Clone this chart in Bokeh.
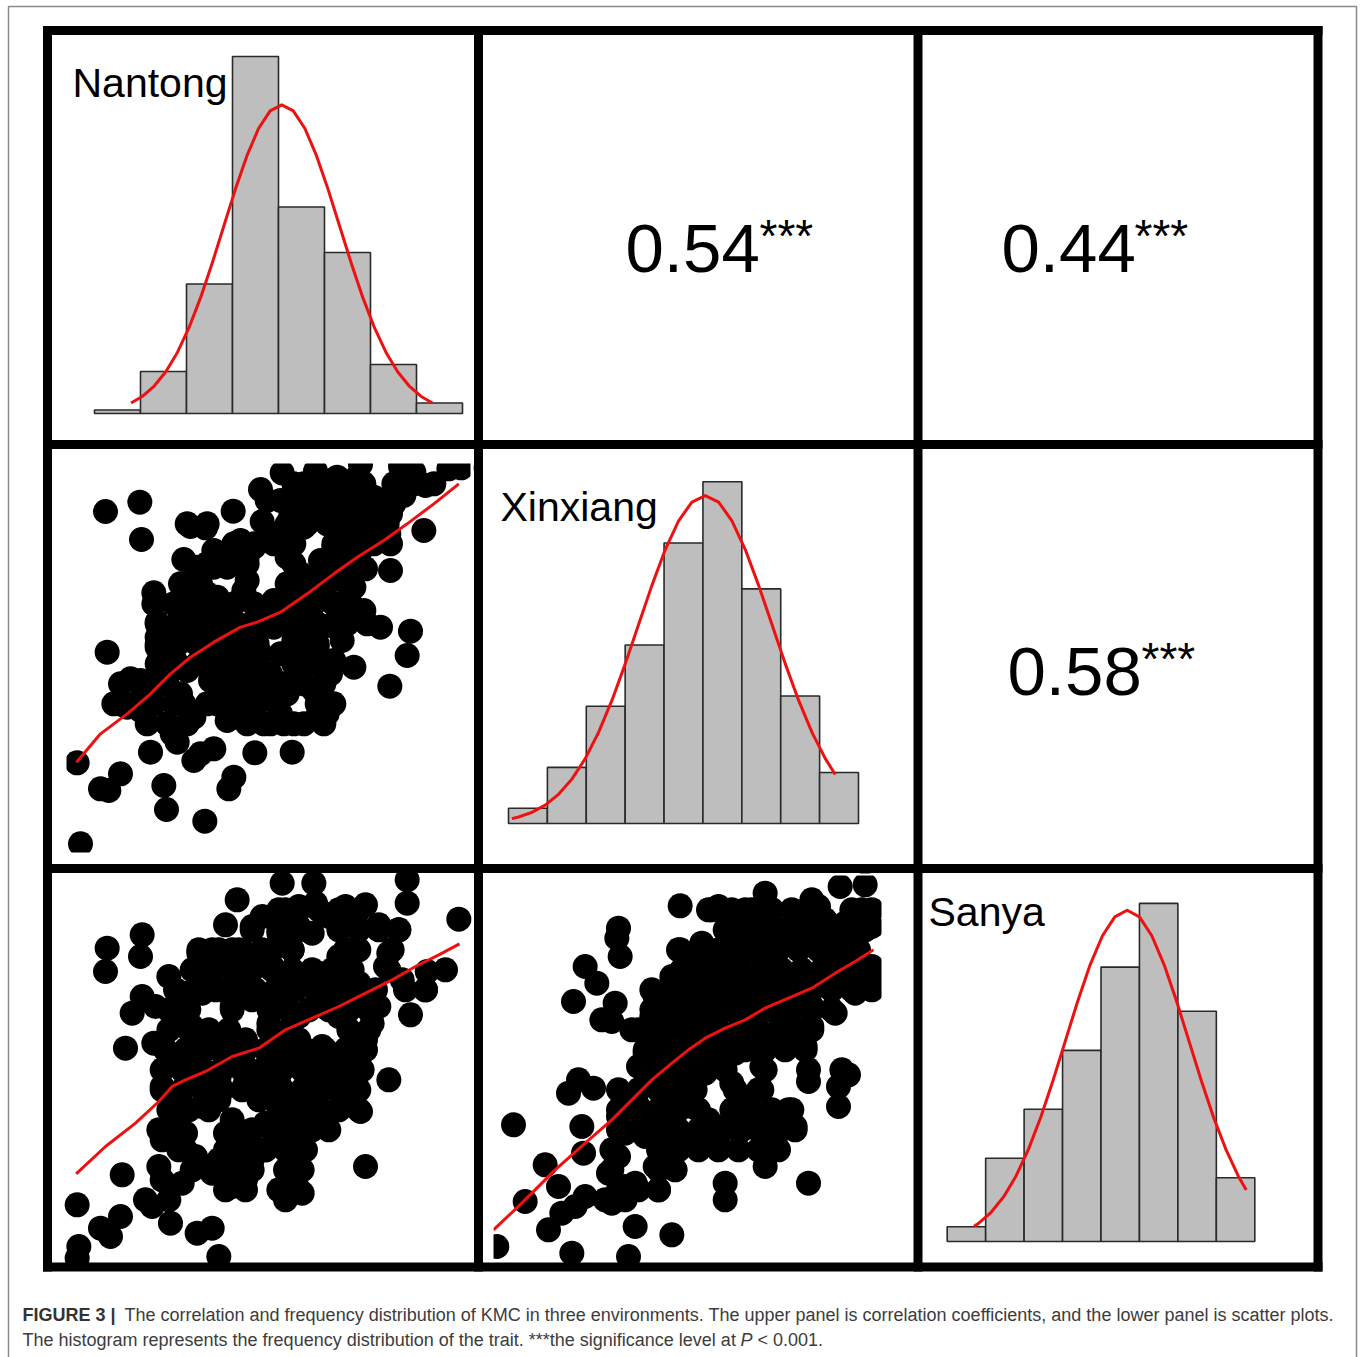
from bokeh.plotting import figure
from bokeh.models import Range1d
from bokeh.embed import file_html
from bokeh.resources import INLINE
from bokeh.core.properties import value

W, H = 1360, 1357

# ---------------- data ----------------
environments = ["Nantong", "Xinxiang", "Sanya"]

nantong_edges = [26, 27, 28, 29, 30, 31, 32, 33, 34]
nantong_counts = [1, 12, 37, 102, 59, 46, 14, 3]
xinxiang_edges = [24, 25, 26, 27, 28, 29, 30, 31, 32, 33]
xinxiang_counts = [3, 11, 23, 35, 55, 67, 46, 25, 10]
sanya_edges = [25, 26, 27, 28, 29, 30, 31, 32, 33]
sanya_counts = [3, 17, 27, 39, 56, 69, 47, 13]

# fitted normal curves
nantong_curve_x = [26.794, 27.046, 27.298, 27.550, 27.802, 28.054, 28.306, 28.558, 28.810, 29.062, 29.314,
                   29.566, 29.818, 30.070, 30.322, 30.574, 30.826, 31.078, 31.330, 31.582, 31.834, 32.086,
                   32.338, 32.590, 32.842, 33.094, 33.346]
nantong_curve_y = [3.00, 4.95, 7.84, 11.94, 17.45, 24.52, 33.10, 42.93, 53.50, 64.05, 73.67, 81.42, 86.45,
                   88.20, 86.45, 81.42, 73.67, 64.05, 53.50, 42.93, 33.10, 24.52, 17.45, 11.94, 7.84, 4.95,
                   3.00]
xinxiang_curve_x = [24.086, 24.258, 24.601, 24.944, 25.287, 25.630, 25.973, 26.316, 26.659, 27.002, 27.345,
                    27.688, 28.031, 28.374, 28.717, 29.060, 29.403, 29.746, 30.089, 30.432, 30.775, 31.118,
                    31.461, 31.804, 32.147, 32.404]
xinxiang_curve_y = [0.96, 1.28, 2.19, 3.61, 5.72, 8.70, 12.72, 17.88, 24.13, 31.30, 39.00, 46.69, 53.71,
                    59.36, 63.03, 64.30, 63.03, 59.36, 53.71, 46.69, 39.00, 31.30, 24.13, 17.88, 12.72, 9.61]
sanya_curve_x = [25.700, 25.828, 26.149, 26.470, 26.791, 27.112, 27.433, 27.754, 28.075, 28.396, 28.717,
                 29.038, 29.359, 29.680, 30.001, 30.322, 30.643, 30.964, 31.285, 31.606, 31.927, 32.248,
                 32.569, 32.778]
sanya_curve_y = [3.12, 3.79, 6.01, 9.15, 13.38, 18.80, 25.37, 32.90, 41.00, 49.09, 56.46, 62.40, 66.26,
                 67.60, 66.26, 62.40, 56.46, 49.09, 41.00, 32.90, 25.37, 18.80, 13.38, 10.50]

# correlation coefficients
r_nantong_xinxiang = "0.54"
r_nantong_sanya = "0.44"
r_xinxiang_sanya = "0.58"
signif = "***"

# scatter: Nantong (x) vs Xinxiang (y) -- outer points
nx_x = [26.95, 27.98, 28.03, 29.30, 29.50, 29.95, 30.78, 31.65, 31.60, 32.25, 33.25, 33.90, 34.60, 35.80,
        36.20, 37.25, 37.62, 36.55, 35.90, 35.30, 36.50, 35.45, 35.50, 34.75, 36.10, 36.00, 35.48, 35.20,
        34.70, 34.30, 34.05, 34.40, 33.80, 33.70, 28.40, 28.50, 27.00, 26.10, 26.20, 26.80, 27.40, 27.05,
        28.70, 28.78, 29.93, 30.65, 30.80, 31.43, 32.55, 28.30, 28.95, 29.10, 29.60, 30.20, 29.80, 27.40,
        27.70, 28.00, 27.60, 28.00, 28.55, 28.50, 29.00, 29.60, 29.30, 30.00, 30.40, 31.05, 31.90, 32.60,
        33.30, 33.60, 33.20, 32.80, 32.20, 31.60, 31.90, 31.00, 30.60, 30.10, 29.70, 30.20, 30.70, 31.20,
        31.60, 32.20, 32.60, 33.00, 33.30, 33.70, 29.30, 29.60, 30.20, 30.70, 31.00, 31.40, 32.00, 32.50,
        32.90, 32.80, 33.20, 33.50, 34.00, 34.50, 35.00, 35.50, 35.00, 34.20, 32.40, 31.10, 30.30, 30.00,
        29.80, 29.20, 28.80, 30.40, 30.90, 31.50, 32.00, 32.60, 33.20, 33.80, 34.20, 34.00, 34.60, 33.40,
        32.80, 32.40, 33.00, 33.50, 32.00, 31.20, 30.60, 30.00, 29.40, 28.80, 28.30, 29.20, 31.30, 32.40,
        32.50, 31.80, 34.70, 34.40, 31.20, 33.80,
        28.50, 30.60, 31.20, 29.80, 29.30, 31.40, 30.80, 32.00, 34.00, 34.60, 35.00, 34.50, 33.80, 32.60,
        32.20, 30.20, 29.70, 28.80, 30.60, 31.20, 32.80]
nx_y = [34.87, 35.15, 34.03, 33.43, 34.42, 34.38, 34.88, 34.57, 35.53, 36.03, 36.08, 35.90, 36.28, 36.22,
        36.05, 36.15, 36.18, 35.65, 35.35, 35.20, 34.30, 34.20, 33.10, 33.15, 31.28, 30.55, 29.63, 31.40,
        31.90, 32.10, 31.00, 30.20, 30.40, 31.45, 32.43, 31.55, 30.65, 27.33, 24.90, 26.55, 27.00, 26.50,
        26.65, 25.93, 25.58, 26.55, 26.90, 27.63, 27.65, 27.65, 28.20, 27.95, 27.40, 27.75, 27.60, 29.10,
        29.85, 29.80, 29.00, 28.90, 30.40, 31.10, 30.50, 28.70, 29.10, 29.10, 29.10, 28.90, 28.50, 28.50,
        28.70, 28.80, 29.50, 30.00, 28.80, 29.40, 30.00, 30.00, 29.80, 29.80, 31.00, 31.40, 31.60, 31.00,
        30.60, 30.60, 31.00, 31.20, 30.80, 30.00, 32.30, 32.80, 33.20, 33.70, 34.00, 33.80, 34.20, 34.70,
        34.40, 35.20, 35.60, 34.90, 34.70, 35.00, 34.70, 34.80, 34.00, 34.00, 33.50, 32.50, 32.30, 32.40,
        31.80, 31.70, 31.30, 30.60, 30.60, 31.80, 32.20, 32.40, 32.80, 33.00, 32.80, 33.60, 33.70, 33.40,
        33.00, 31.80, 32.00, 32.30, 31.40, 31.40, 31.00, 30.50, 30.10, 29.70, 29.40, 29.40, 29.10, 29.40,
        34.00, 35.20, 35.60, 32.60, 32.80, 33.80,
        30.80, 33.20, 33.50, 31.40, 31.00, 30.00, 29.40, 29.40, 34.30, 34.40, 35.30, 35.90, 35.20, 35.70,
        35.20, 33.70, 33.20, 30.80, 28.60, 28.50, 30.80]
# Nantong vs Xinxiang -- points of the dense core
nx_core_x = [32.90, 33.50, 34.10, 34.70, 35.60, 36.20, 36.80,
             32.60, 33.20, 33.80, 34.40, 35.00, 35.60,
             29.40, 30.00, 32.40, 33.00, 33.60, 34.20, 34.80, 35.40,
             30.80, 31.40, 32.00, 32.60, 33.80, 34.40, 35.00, 35.50,
             30.00, 30.60, 31.20, 32.60, 33.80, 34.40,
             29.20, 29.80, 32.40, 33.00, 33.60, 34.20,
             28.40, 29.00, 29.60, 30.20, 30.80, 31.40, 32.00, 32.60, 33.20, 33.80,
             28.50, 29.10, 29.70, 30.30, 30.90, 31.50, 32.10, 32.70, 33.30, 34.20, 34.80,
             28.50, 29.10, 29.70, 30.30, 30.90, 31.50, 32.70, 33.30,
             28.50, 29.10, 29.70, 30.30, 30.90, 31.50, 32.60, 33.20, 33.70,
             27.40, 28.00, 28.60, 30.50, 31.10, 31.70, 32.30, 32.90, 33.50,
             27.20, 27.80, 28.40, 29.00, 30.30, 30.90, 31.50, 32.10, 33.30, 33.80,
             28.20, 28.80, 29.40, 31.70, 32.30, 32.90, 33.50]
nx_core_y = [35.70] * 7 + [35.10] * 6 + [34.50] * 8 + [33.90] * 8 + [33.30] * 6 + [32.70] * 6 + \
            [32.10] * 10 + [31.50] * 11 + [30.90] * 8 + [30.30] * 9 + [29.70] * 9 + [29.10] * 10 + [28.50] * 7
nx_fit_x = [26.08, 26.80, 27.60, 28.30, 28.90, 29.50, 30.20, 31.00, 31.50, 32.20, 33.00, 33.80, 34.50,
            35.30, 36.00, 36.80, 37.55]
nx_fit_y = [27.35, 28.20, 28.80, 29.40, 30.00, 30.50, 30.95, 31.40, 31.55, 31.85, 32.40, 33.00, 33.50,
            34.00, 34.50, 35.10, 35.70]

# scatter: Nantong (x) vs Sanya (y) -- outer points
ns_x = [32.10, 33.05, 35.85, 30.75, 35.85, 37.40, 30.40, 31.20, 27.90, 26.85, 27.85, 26.80, 28.70, 29.60,
        30.00, 30.60, 31.50, 32.20, 33.10, 34.00, 34.60, 35.00, 35.60, 35.30, 35.20, 35.70, 36.40, 37.00,
        36.45, 35.95, 35.00, 34.40, 27.90, 27.60, 28.30, 27.40, 28.25, 28.80, 29.20, 29.70, 30.30, 31.00,
        31.80, 32.40, 33.00, 33.80, 34.00, 33.20, 32.60, 32.20, 31.60, 31.70, 30.60, 29.40, 29.80, 30.40,
        31.00, 31.80, 32.60, 33.30, 33.80, 33.80, 34.60, 34.30, 33.80, 33.50, 33.90, 34.45, 35.30, 34.60,
        33.20, 32.80, 32.60, 32.20, 32.80, 33.30, 32.00, 31.50, 31.00, 30.40, 30.00, 29.40, 28.80, 28.50,
        29.00, 28.80, 28.50, 29.20, 29.70, 30.20, 31.00, 31.40, 32.00, 32.40, 32.20, 31.60, 31.00, 30.40,
        29.50, 30.20, 30.80, 31.20, 30.60, 30.00, 32.40, 32.30, 32.20, 32.70, 28.40, 28.50, 29.10, 28.00,
        28.70, 27.30, 25.95, 26.65, 27.25, 26.95, 26.00, 25.95, 28.75, 29.55, 30.00, 30.20, 28.20, 31.00,
        32.00, 32.60, 33.50, 34.30, 31.50, 30.60, 29.80, 29.20, 32.20, 31.20, 32.90, 30.60, 29.40, 31.90,
        33.20, 29.00, 31.60, 34.00,
        32.60, 34.40, 34.80, 32.60, 30.20, 29.60, 32.60, 33.20, 31.00]
ns_y = [36.50, 36.50, 36.60, 36.00, 35.90, 35.42, 35.25, 35.20, 34.95, 34.55, 34.30, 33.85, 33.70, 34.40,
        34.50, 34.50, 35.50, 35.70, 35.90, 35.80, 35.85, 35.25, 35.10, 34.40, 34.00, 33.60, 33.30, 33.90,
        33.85, 32.55, 32.80, 32.90, 33.10, 32.60, 32.80, 31.55, 31.70, 32.20, 32.80, 33.20, 33.30, 33.50,
        34.00, 34.50, 35.00, 34.30, 34.00, 33.80, 33.50, 32.90, 33.00, 32.30, 32.80, 32.20, 31.70, 31.80,
        31.80, 32.00, 32.50, 33.00, 33.30, 32.50, 31.80, 31.30, 31.00, 30.60, 30.00, 29.65, 30.60, 28.00,
        29.30, 29.50, 30.20, 31.00, 31.40, 31.60, 30.50, 30.80, 31.00, 31.20, 30.80, 30.60, 31.10, 30.40,
        30.00, 29.60, 28.80, 29.00, 29.80, 30.00, 30.50, 30.00, 29.80, 29.20, 28.70, 28.50, 28.80, 29.00,
        28.30, 28.20, 28.00, 28.20, 27.40, 27.80, 28.30, 27.50, 27.00, 27.20, 28.00, 27.60, 27.50, 27.00,
        27.00, 27.75, 26.85, 26.15, 26.50, 25.90, 25.60, 25.25, 26.30, 26.00, 26.15, 25.30, 26.80, 34.40,
        35.00, 35.20, 35.50, 35.50, 34.50, 34.00, 33.80, 33.20, 33.70, 33.00, 30.80, 29.40, 31.40, 31.40,
        30.20, 28.50, 29.30, 30.40,
        35.80, 33.50, 32.30, 31.80, 30.60, 31.00, 28.70, 29.80, 27.60]
# Nantong vs Sanya -- points of the dense core
ns_core_x = [32.00, 32.60, 33.20, 33.80, 34.40,
             31.20, 32.00, 32.60, 33.80, 34.40, 35.00, 35.60,
             29.60, 30.20, 30.80, 31.80, 32.40, 34.00, 34.40, 35.40,
             29.40, 30.00, 30.60, 31.20, 31.80, 32.40, 33.00, 33.60, 34.20, 35.30,
             28.90, 29.50, 30.10, 30.70, 31.30, 31.90, 32.50, 33.10, 33.70, 34.30, 34.90, 35.80, 36.40,
             28.70, 29.30, 30.60, 31.70, 32.30, 32.90, 33.50, 34.10, 34.70,
             28.70, 29.30, 29.90, 30.50, 31.70, 32.30, 34.10, 34.70,
             28.60, 29.20, 29.80, 30.40, 31.00, 31.60, 32.20, 32.80, 33.40, 34.00, 34.60,
             28.50, 29.10, 29.70, 30.30, 30.90, 31.50, 32.10, 32.70, 33.30, 33.90, 34.50,
             28.50, 29.10, 29.70, 30.30, 30.90, 31.50, 32.10, 32.70, 33.30, 33.90, 34.40,
             28.70, 29.30, 29.90, 32.00, 32.60, 33.20, 33.80, 34.40,
             28.40, 29.00, 30.60, 31.20, 31.80, 32.40, 33.00, 33.50,
             29.20, 30.40, 31.00, 31.60, 32.20, 32.80,
             29.40, 30.00, 30.60, 31.20, 32.20, 32.70,
             30.40, 31.00, 32.00, 32.60]
ns_core_y = [35.70] * 5 + [35.10] * 7 + [34.50] * 8 + [33.90] * 10 + [33.30] * 13 + [32.70] * 9 + \
            [32.10] * 8 + [31.50] * 11 + [30.90] * 11 + [30.30] * 11 + [29.70] * 8 + [29.10] * 8 + \
            [28.50] * 6 + [27.90] * 6 + [27.30] * 4
ns_fit_x = [25.92, 26.80, 27.70, 28.40, 28.80, 29.20, 29.80, 30.60, 31.40, 32.20, 33.00, 33.80, 34.60,
            35.40, 36.10, 36.80, 37.42]
ns_fit_y = [27.78, 28.60, 29.30, 29.95, 30.40, 30.60, 30.85, 31.30, 31.55, 32.10, 32.45, 32.80, 33.20,
            33.60, 34.00, 34.35, 34.68]

# scatter: Xinxiang (x) vs Sanya (y) -- outer points
xs_x = [30.05, 31.20, 30.90, 32.60, 34.85, 35.60, 34.00, 35.50, 35.80, 35.00, 34.40, 33.50, 33.00, 32.00,
        32.30, 31.60, 28.20, 28.15, 28.25, 27.20, 27.55, 26.85, 28.10, 28.00, 28.60, 29.00, 29.30, 30.10,
        30.05, 30.70, 30.40, 31.00, 31.50, 32.20, 32.80, 33.60, 34.50, 35.80, 35.80, 35.30, 34.70, 34.00,
        33.10, 33.40, 33.80, 32.60, 32.00, 31.40, 31.00, 30.50, 30.00, 29.60, 29.40, 29.90, 30.50, 31.20,
        31.70, 32.50, 33.90, 35.10, 34.80, 34.80, 29.10, 27.00, 26.70, 27.45, 28.40, 28.20, 28.80, 29.30,
        30.00, 30.20, 31.60, 32.00, 32.50, 32.80, 33.30, 33.50, 32.90, 32.50, 31.90, 31.60, 31.20, 30.50,
        30.00, 29.60, 29.00, 28.40, 28.20, 29.40, 29.30, 29.70, 28.40, 28.70, 29.40, 25.05, 27.10, 27.15,
        26.00, 26.40, 25.40, 26.10, 26.50, 27.20, 26.90, 28.00, 28.40, 28.70, 28.50, 26.80, 24.55, 29.80,
        31.40, 31.40, 32.60, 33.90, 29.20, 30.60, 31.20, 31.80, 32.40, 33.00, 33.60, 34.20, 32.50, 31.80,
        31.00, 31.60, 33.60, 35.20, 34.60, 30.00, 30.80, 30.40, 30.90, 28.80, 27.70, 29.80, 33.60, 28.20,
        27.80, 29.60, 34.20, 32.80,
        32.80, 34.00, 35.00, 33.00, 32.20, 35.20, 34.00, 32.20, 29.60, 29.60, 27.90]
xs_y = [35.82, 35.80, 35.70, 36.20, 36.40, 36.45, 36.00, 35.70, 35.20, 35.30, 35.40, 35.60, 35.00, 35.70,
        35.20, 35.00, 35.15, 34.85, 34.30, 34.00, 33.50, 32.95, 32.90, 32.35, 32.10, 31.40, 33.10, 33.20,
        34.50, 34.70, 34.00, 34.00, 34.40, 34.50, 34.40, 34.70, 34.40, 34.00, 33.60, 33.20, 32.60, 32.80,
        32.50, 31.80, 31.60, 31.60, 31.80, 31.60, 32.00, 32.30, 32.60, 32.40, 31.70, 31.20, 31.40, 31.00,
        31.40, 31.00, 30.55, 30.75, 30.40, 29.80, 30.60, 30.60, 30.20, 30.35, 30.00, 29.50, 29.80, 29.40,
        30.10, 30.60, 30.50, 30.00, 30.30, 29.60, 29.70, 29.20, 28.80, 29.10, 29.10, 29.40, 28.90, 28.70,
        29.00, 29.40, 28.90, 29.00, 28.30, 28.60, 28.00, 28.00, 27.40, 27.50, 27.30, 29.25, 29.20, 28.40,
        28.05, 27.40, 26.95, 26.10, 26.60, 27.10, 26.80, 26.90, 27.00, 26.20, 25.30, 25.40, 25.60, 25.95,
        27.50, 27.00, 28.00, 27.50, 32.50, 33.20, 33.20, 33.70, 33.70, 33.70, 33.70, 33.70, 32.80, 32.60,
        32.60, 32.90, 33.20, 34.30, 33.50, 31.80, 30.80, 29.80, 29.40, 31.00, 32.40, 33.70, 35.20, 27.20,
        27.00, 31.20, 35.80, 35.70,
        35.20, 35.00, 34.80, 33.10, 33.20, 33.80, 32.20, 32.20, 30.60, 29.90, 27.80]
# Xinxiang vs Sanya -- points of the dense core
xs_core_x = [31.00, 31.60, 32.20, 32.80, 33.40, 34.00, 35.20, 35.80,
             31.40, 32.00, 32.60, 33.20, 33.80, 34.40, 35.00, 35.60,
             30.00, 30.60, 31.20, 31.80, 32.40, 33.00, 33.60, 34.20, 34.80, 35.40,
             30.10, 30.70, 31.30, 31.90, 32.50, 33.10, 33.70, 34.30, 34.90, 35.50,
             29.20, 29.80, 30.40, 31.00, 31.60, 32.20, 32.80, 33.40, 34.00, 34.60, 35.20, 35.80,
             29.20, 29.80, 30.40, 31.00, 31.60, 32.20, 32.80, 33.40, 34.00, 34.60,
             28.80, 29.40, 30.00, 30.60, 31.20, 31.80, 32.40, 33.00, 33.60, 34.00,
             29.00, 29.60, 30.20, 30.80, 32.00, 32.60, 33.20, 33.80,
             29.00, 29.60, 30.20, 30.80, 31.40, 32.60, 33.90, 34.90,
             28.20, 28.80, 29.40, 30.00, 30.50, 31.70, 32.40,
             28.20, 28.80, 29.40, 30.00, 30.60, 31.60, 32.20, 32.80, 33.40,
             28.20, 28.80, 29.40, 30.00, 30.60, 31.20, 31.80, 32.40, 33.00, 33.50,
             28.00, 29.40, 30.00, 30.60, 31.20, 31.80, 32.40, 33.00,
             28.00, 29.40, 29.90,
             28.20, 28.80, 29.40]
xs_core_y = [35.70] * 8 + [35.10] * 8 + [34.50] * 10 + [33.90] * 10 + [33.30] * 12 + [32.70] * 10 + \
            [32.10] * 10 + [31.50] * 8 + [30.90] * 8 + [30.30] * 7 + [29.70] * 9 + [29.10] * 10 + \
            [28.50] * 8 + [27.90] * 3 + [27.30] * 3
xs_fit_x = [24.45, 25.30, 26.30, 27.20, 28.00, 28.60, 29.20, 29.80, 30.30, 30.80, 31.40, 32.00, 32.60,
            33.30, 34.00, 34.70, 35.30, 35.85]
xs_fit_y = [26.10, 26.90, 27.90, 28.70, 29.40, 30.00, 30.60, 31.10, 31.50, 31.85, 32.15, 32.40, 32.75,
            33.05, 33.35, 33.80, 34.15, 34.50]

caption_bold = "FIGURE 3 |"
caption_line1 = ("The correlation and frequency distribution of KMC in three environments. "
                 "The upper panel is correlation coefficients, and the lower panel is scatter plots.")
caption_line2a = "The histogram represents the frequency distribution of the trait. ***the significance level at"
caption_line2b = "P"
caption_line2c = "< 0.001."

# ---------------- layout (page pixels) ----------------
FONT = value("Liberation Sans")
p = figure(width=W, height=H, x_range=Range1d(0, W), y_range=Range1d(H, 0),
           output_backend="svg", toolbar_location=None, min_border=0,
           x_axis_location=None, y_axis_location=None, outline_line_color=None,
           background_fill_color="white", border_fill_color="white")
p.grid.visible = False

xr, yr = {}, {}


def panel(name, dx, px, dy, py):
    kx = (dx[1] - dx[0]) / (px[1] - px[0])
    xr[name] = Range1d(dx[0] - px[0] * kx, dx[0] + (W - px[0]) * kx)
    ky = (dy[1] - dy[0]) / (py[1] - py[0])
    yr[name] = Range1d(dy[0] + (H - py[0]) * ky, dy[0] - py[0] * ky)


panel("N", (26, 34), (94, 462), (0, 100), (413, 63))
panel("X", (24, 33), (508, 858), (0, 100), (823, 313))
panel("S", (25, 33), (946.7, 1254.3), (0, 100), (1241, 751))
panel("NX", (25.78, 37.90), (66, 470), (36.31, 24.64), (463, 852))
panel("NS", (25.63, 37.87), (66, 474), (36.73, 25.09), (875, 1263))
panel("XS", (24.45, 36.09), (493, 881), (36.73, 25.09), (875, 1263))
p.extra_x_ranges = xr
p.extra_y_ranges = yr

# outer grey frame of the figure
p.line([8, 8, 1356, 1356], [H + 5, 6, 6, H + 5], line_color="#8a8a8a", line_width=1.5)

RED = "#EE1111"
BAR = "#BEBEBE"

for nm, edges, counts, cx, cy in [("N", nantong_edges, nantong_counts, nantong_curve_x, nantong_curve_y),
                                   ("X", xinxiang_edges, xinxiang_counts, xinxiang_curve_x, xinxiang_curve_y),
                                   ("S", sanya_edges, sanya_counts, sanya_curve_x, sanya_curve_y)]:
    p.quad(left=edges[:-1], right=edges[1:], bottom=0, top=counts, x_range_name=nm, y_range_name=nm,
           fill_color=BAR, line_color="#2a2a2a", line_width=1.6)
    p.line(cx, cy, x_range_name=nm, y_range_name=nm, line_color=RED, line_width=3, line_join="round")

for nm, sx, sy, fx, fy in [("NX", nx_x + nx_core_x, nx_y + nx_core_y, nx_fit_x, nx_fit_y),
                           ("NS", ns_x + ns_core_x, ns_y + ns_core_y, ns_fit_x, ns_fit_y),
                           ("XS", xs_x + xs_core_x, xs_y + xs_core_y, xs_fit_x, xs_fit_y)]:
    p.scatter(sx, sy, x_range_name=nm, y_range_name=nm, size=25, fill_color="black", line_color=None)
    p.line(fx, fy, x_range_name=nm, y_range_name=nm, line_color=RED, line_width=3, line_join="round")

# white masks = clipping of the scatter panels
mask_l = [51, 470, 51, 51, 51, 483, 881, 483, 40]
mask_r = [473, 473, 473, 66, 66, 493, 913, 913, 925]
mask_t = [448, 448, 852, 448, 873, 873, 873, 873, 1271]
mask_b = [463, 863, 863, 863, 875, 1262, 1262, 875, 1295]
p.quad(left=mask_l, right=mask_r, top=mask_t, bottom=mask_b, fill_color="white", line_color=None)

# thick panel borders
vx = [47, 478, 917.5, 1317.5]
hy = [30, 444, 868, 1266.5]
p.segment(x0=vx, x1=vx, y0=[30] * 4, y1=[1266.5] * 4, line_color="black", line_width=9, line_cap="square")
p.segment(x0=[47] * 4, x1=[1317.5] * 4, y0=hy, y1=hy, line_color="black", line_width=9, line_cap="square")

# labels of the diagonal (text anchored at the middle of the em box)
p.text([72, 500, 928], [82.5, 506.5, 911.5], text=environments, text_font=FONT, text_font_size="41px",
       text_color="black", text_baseline="middle", text_align="left")

# correlation coefficients
p.text([625, 1001, 1007], [248, 248, 671], text=[r_nantong_xinxiang, r_nantong_sanya, r_xinxiang_sanya],
       text_font=FONT, text_font_size="69px", text_color="black", text_baseline="middle")
p.text([759, 1134, 1141], [235, 235, 658], text=[signif] * 3, text_font=FONT, text_font_size="46px",
       text_color="black", text_baseline="middle")

# caption
CAP = "18px"
p.text([22], [1314.8], text=[caption_bold], text_font=FONT, text_font_size=CAP, text_font_style="bold",
       text_color="#333333", text_baseline="middle")
p.text([124], [1314.8], text=[caption_line1], text_font=FONT, text_font_size=CAP,
       text_color="#3c3c3c", text_baseline="middle")
p.text([22], [1339.8], text=[caption_line2a], text_font=FONT, text_font_size=CAP,
       text_color="#3c3c3c", text_baseline="middle")
p.text([740], [1339.8], text=[caption_line2b], text_font=FONT, text_font_size=CAP, text_font_style="italic",
       text_color="#3c3c3c", text_baseline="middle")
p.text([757], [1339.8], text=[caption_line2c], text_font=FONT, text_font_size=CAP,
       text_color="#3c3c3c", text_baseline="middle")

open("out.html", "w").write(file_html(p, INLINE))
